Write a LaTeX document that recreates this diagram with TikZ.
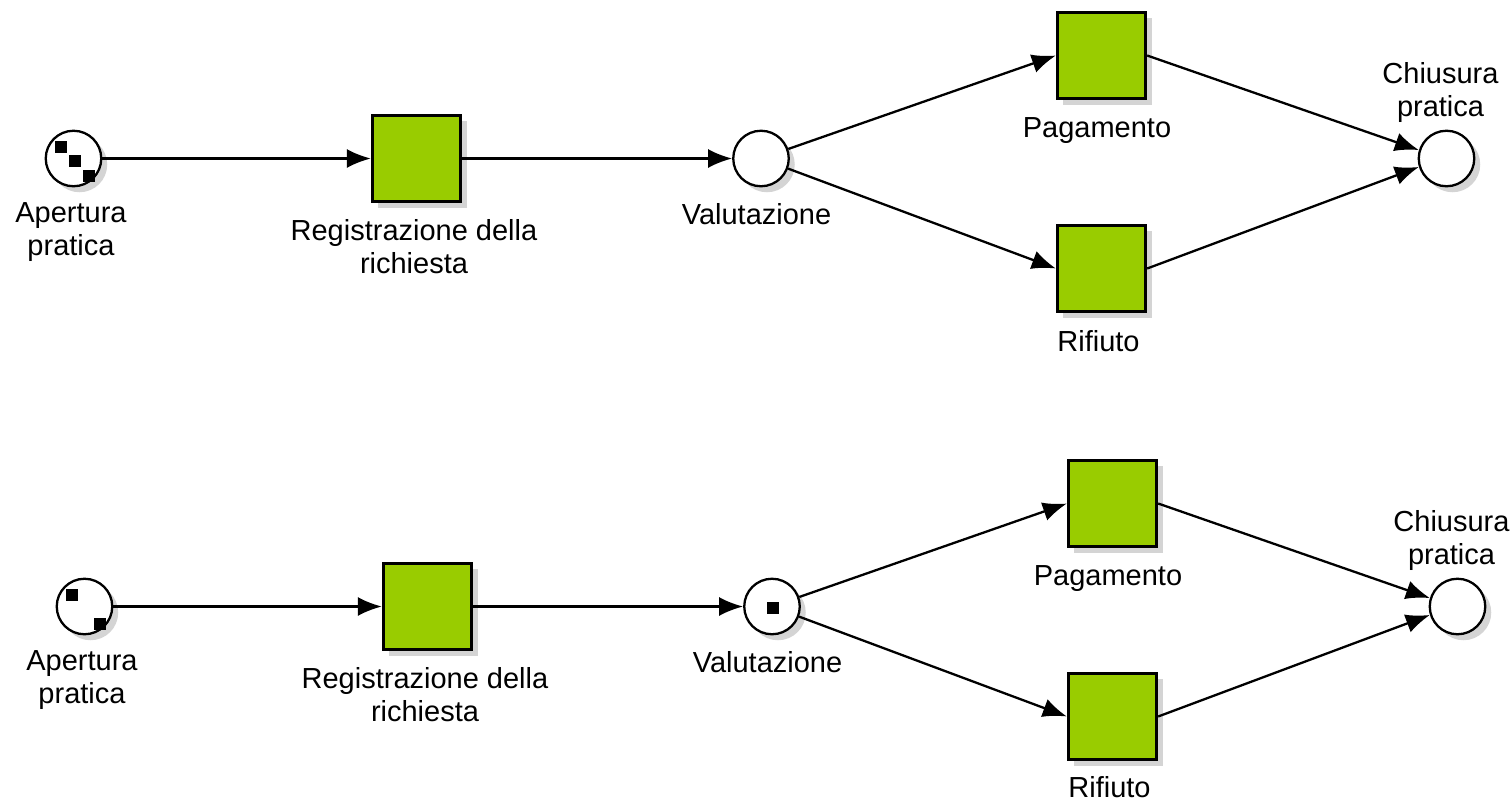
\documentclass[tikz,border=0pt]{standalone}
\usepackage{fontspec}
\setmainfont{Liberation Sans}
\usetikzlibrary{arrows.meta,shadows}
\definecolor{trgreen}{RGB}{153,204,0}
\definecolor{shadowgray}{RGB}{212,212,212}
\tikzset{
  shade/.style={drop shadow={shadow xshift=6pt, shadow yshift=-6pt, fill=shadowgray, opacity=1}},
  place/.style={circle, draw=black, line width=2.3pt, fill=white, minimum size=55.5pt, inner sep=0pt, shade},
  trans/.style={rectangle, draw=black, line width=2.8pt, fill=trgreen, minimum width=88.5pt, minimum height=86.5pt, inner sep=0pt, shade},
  token/.style={rectangle, fill=black, minimum size=12pt, inner sep=0pt},
  lbl/.style={inner sep=0pt, align=center, font=\fontsize{29}{33}\selectfont, anchor=north},
  arc/.style={line width=2.3pt, -{Latex[length=24pt,width=19pt]}}
}
\begin{document}
\begin{tikzpicture}[x=1pt,y=-1pt]
\useasboundingbox (0,0) rectangle (1511,801);

% ---------- first net: three tokens in the start place ----------
\node[place] (ap1) at (73.5,158.5) {};
\node[trans] (reg1) at (416.5,158.5) {};
\node[place] (val1) at (761,158.5) {};
\node[trans] (pag1) at (1101.5,55.5) {};
\node[trans] (rif1) at (1101.5,268.5) {};
\node[place] (chi1) at (1446.5,158.5) {};

\node[token] (ap1t1) at ([shift={(-13,-11.5)}]ap1) {};
\node[token] (ap1t2) at ([shift={(1,2)}]ap1) {};
\node[token] (ap1t3) at ([shift={(15,17)}]ap1) {};

\node[lbl] (ap1l) at (71,202) {Apertura\\pratica};
\node[lbl] (reg1l) at (414,219) {Registrazione della\\richiesta};
\node[lbl] (val1l) at (756.5,203) {Valutazione};
\node[lbl] (pag1l) at (1097,117) {Pagamento};
\node[lbl] (rif1l) at (1098.5,330) {Rifiuto};
\node[lbl] (chi1l) at (1440.5,62) {Chiusura\\pratica};

\draw[arc] (ap1) -- (reg1);
\draw[arc] (reg1) -- (val1);
\draw[arc] (val1) -- (pag1.west);
\draw[arc] (val1) -- (rif1.west);
\draw[arc] (pag1.east) -- (chi1.163);
\draw[arc] (rif1.east) -- (chi1.197);

% ---------- second net: one token moved on to the evaluation place ----------
\node[place] (ap2) at (84.5,606.5) {};
\node[trans] (reg2) at (427.5,606.5) {};
\node[place] (val2) at (772,606.5) {};
\node[trans] (pag2) at (1112.5,503.5) {};
\node[trans] (rif2) at (1112.5,716.5) {};
\node[place] (chi2) at (1457.5,606.5) {};

\node[token] (ap2t1) at ([shift={(-13,-11.5)}]ap2) {};
\node[token] (ap2t2) at ([shift={(15,17)}]ap2) {};
\node[token] (val2t1) at ([shift={(1,1)}]val2) {};

\node[lbl] (ap2l) at (82,650) {Apertura\\pratica};
\node[lbl] (reg2l) at (425,667) {Registrazione della\\richiesta};
\node[lbl] (val2l) at (767.5,651) {Valutazione};
\node[lbl] (pag2l) at (1108,565) {Pagamento};
\node[lbl] (rif2l) at (1109.5,776) {Rifiuto};
\node[lbl] (chi2l) at (1451.5,510) {Chiusura\\pratica};

\draw[arc] (ap2) -- (reg2);
\draw[arc] (reg2) -- (val2);
\draw[arc] (val2) -- (pag2.west);
\draw[arc] (val2) -- (rif2.west);
\draw[arc] (pag2.east) -- (chi2.163);
\draw[arc] (rif2.east) -- (chi2.197);
\end{tikzpicture}
\end{document}
